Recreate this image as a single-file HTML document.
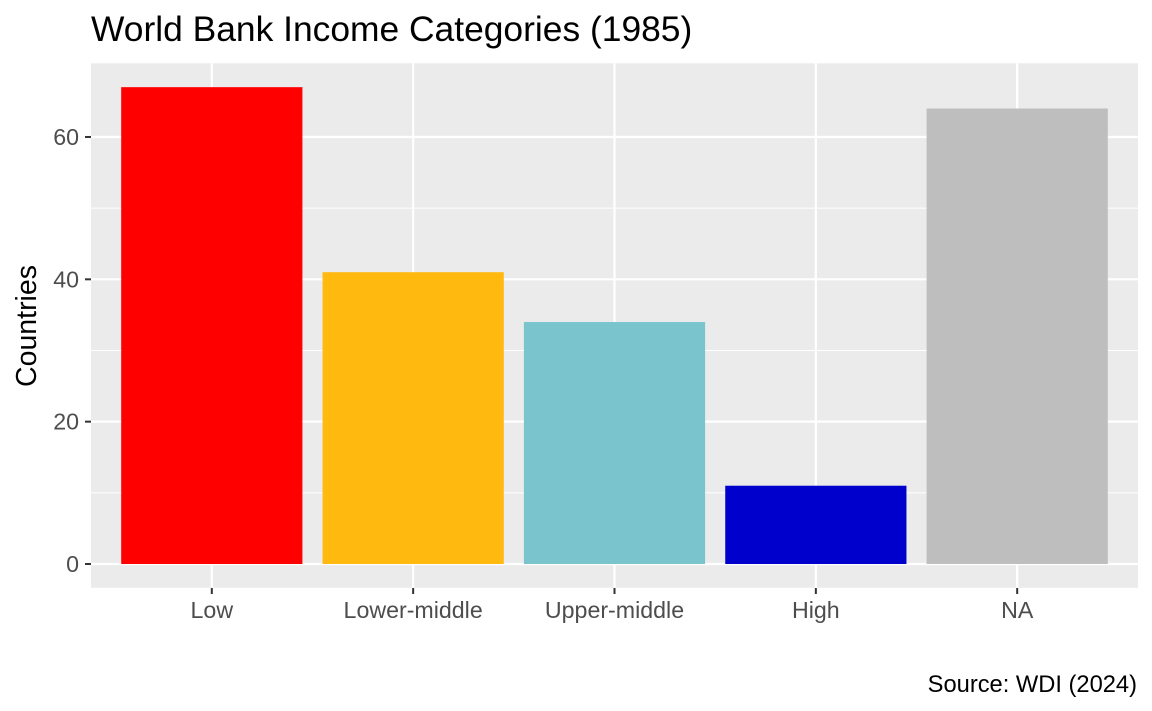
<!DOCTYPE html>
<html><head><meta charset="utf-8"><style>
body{margin:0;background:#fff;}
svg{display:block;font-family:"Liberation Sans",Arial,sans-serif;}
</style></head><body>
<svg id="chart" width="1152" height="711">
<text x="91" y="41" font-size="35.4" fill="#000">World Bank Income Categories (1985)</text>
<rect x="91" y="63.3" width="1047" height="524.5" fill="#ebebeb"/>
<g id="grid"></g><g id="bars"></g><g id="axes"></g>
<text transform="translate(36,326) rotate(-90)" text-anchor="middle" font-size="28.5" fill="#000">Countries</text>
<text x="1137" y="692" text-anchor="end" font-size="23.7" fill="#000">Source: WDI (2024)</text>
</svg>
<script>
const categories=["Low","Lower-middle","Upper-middle","High","NA"];
const values=[67,41,34,11,64];
const colors=["#ff0000","#ffb90f","#7ac5cd","#0000cd","#bebebe"];
const yTicks=[0,20,40,60];
const yMinor=[10,30,50];
const NS="http://www.w3.org/2000/svg";
const L=91,R=1138,step=(R-L)/(categories.length+0.2);
const x=i=>L+(i+0.6)*step;
const y=v=>564-v*7.117;
function mk(t,a,p){const e=document.createElementNS(NS,t);for(const k in a)e.setAttribute(k,a[k]);p.appendChild(e);return e;}
const g=document.getElementById('grid'),b=document.getElementById('bars'),ax=document.getElementById('axes');
yMinor.forEach(v=>{const e=mk('line',{x1:L,x2:R,y1:y(v),y2:y(v),stroke:'#fff','stroke-width':1},g);

});
yTicks.forEach(v=>{const e=mk('line',{x1:L,x2:R,y1:y(v),y2:y(v),stroke:'#fff','stroke-width':2.2},g);


const t=mk('line',{x1:85,x2:91,y1:y(v),y2:y(v),stroke:'#333','stroke-width':2},ax);


const l=mk('text',{x:79,y:y(v)+8,'text-anchor':'end','font-size':23.2,fill:'#4d4d4d'},ax);l.textContent=v;

});
categories.forEach((c,i)=>{const cx=x(i);
const gl=mk('line',{x1:cx,x2:cx,y1:63.3,y2:587.8,stroke:'#fff','stroke-width':2.2},g);


const w=step*0.9;
const r=mk('rect',{x:cx-w/2,y:y(values[i]),width:w,height:y(0)-y(values[i]),fill:colors[i]},b);


const t=mk('line',{x1:cx,x2:cx,y1:588,y2:594,stroke:'#333','stroke-width':2},ax);


const l=mk('text',{x:cx,y:618,'text-anchor':'middle','font-size':23.2,fill:'#4d4d4d'},ax);l.textContent=c;

});
</script>
</body></html>
